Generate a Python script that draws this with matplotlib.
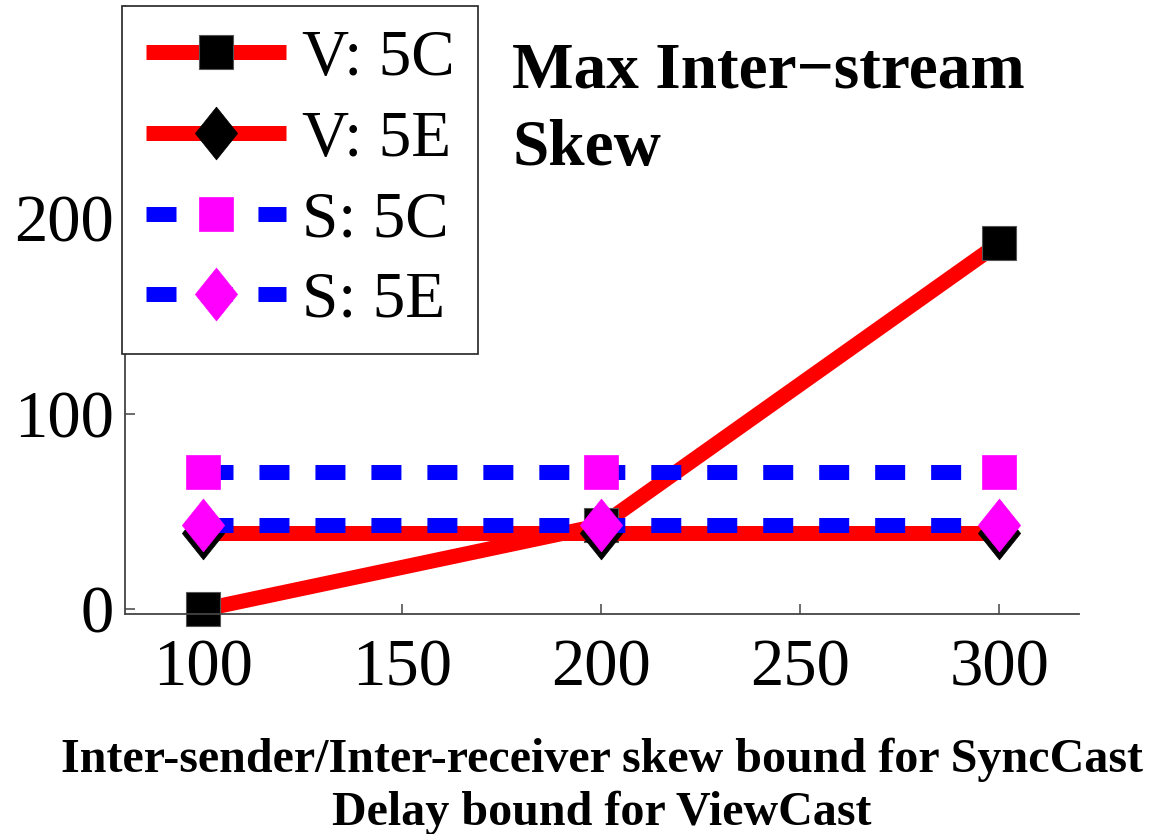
import matplotlib
matplotlib.use("Agg")
import matplotlib.pyplot as plt
from matplotlib.path import Path

plt.rcParams['font.family'] = ['Liberation Serif', 'DejaVu Serif']
plt.rcParams['lines.scale_dashes'] = False

# ---- data ----
x_values = [100, 200, 300]
v_5c = [0, 43, 187]
v_5e = [39, 39, 39]
s_5c = [70, 70, 70]
s_5e = [43, 43, 43]
labels = ["V: 5C", "V: 5E", "S: 5C", "S: 5E"]
x_ticks = [100, 150, 200, 250, 300]
y_ticks = [0, 100, 200]
title_text = "Max Inter\u2212stream\nSkew"
xlabel_text = "Inter-sender/Inter-receiver skew bound for SyncCast\nDelay bound for ViewCast"

W, H = 1153, 834
fig = plt.figure(figsize=(W / 100, H / 100), dpi=100)
ax = fig.add_axes([125 / W, 1 - 614 / H, (1079 - 125) / W, (614 - 6) / H])

diamond = Path([(0, 0.5), (0.4, 0), (0, -0.5), (-0.4, 0), (0, 0.5)],
               [Path.MOVETO, Path.LINETO, Path.LINETO, Path.LINETO, Path.CLOSEPOLY])

lw = 10.8
dash = (21.6, 18.7)
ax.plot(x_values, v_5c, color='#ff0000', lw=lw, marker='s', ms=25,
        mfc='black', mec='#555555', mew=0.8, label=labels[0], clip_on=False,
        solid_capstyle='butt')
ax.plot(x_values, v_5e, color='#ff0000', lw=lw, marker=diamond, ms=38,
        mfc='black', mec='black', mew=0.5, label=labels[1], clip_on=False,
        solid_capstyle='butt')
ax.plot(x_values, s_5c, color='#0000ff', lw=lw, dashes=dash, marker='s', ms=25,
        mfc='#ff00ff', mec='#ff00ff', mew=0.5, label=labels[2], clip_on=False)
ax.plot(x_values, s_5e, color='#0000ff', lw=lw, dashes=dash, marker=diamond, ms=38,
        mfc='#ff00ff', mec='#ff00ff', mew=0.5, label=labels[3], clip_on=False)

ax.set_xlim(80.4, 320)
ax.set_ylim(-2.3, 308)
ax.set_xticks(x_ticks)
ax.set_yticks(y_ticks)
for s in ['top', 'right']:
    ax.spines[s].set_visible(False)
for s in ['left', 'bottom']:
    ax.spines[s].set_color('#444444')
    ax.spines[s].set_linewidth(1.3)
ax.tick_params(direction='in', length=7.2, width=1.1, color='#444444',
               labelsize=48, pad=8)
ax.tick_params(axis='x', pad=18)

leg = ax.legend(loc='upper left', bbox_to_anchor=(122 / W, 1 - 6 / H),
                bbox_transform=fig.transFigure, borderaxespad=0,
                fontsize=47, numpoints=1, handlelength=2.15, handletextpad=0.25,
                labelspacing=0.32, borderpad=0.36, fancybox=False,
                framealpha=1, edgecolor='#222222')
leg.get_frame().set_linewidth(1.2)

fig.text(512 / W, 1 - 165 / H, title_text, fontsize=47, fontweight='bold',
         ha='left', va='baseline', linespacing=1.38)

ax.set_xlabel(xlabel_text, fontsize=34.6, fontweight='bold', linespacing=1.25)
ax.xaxis.set_label_coords((602 - 125) / (1079 - 125), (614 - 738) / (614 - 6))
ax.xaxis.label.set_va('top')

fig.savefig("out.png", dpi=100)
